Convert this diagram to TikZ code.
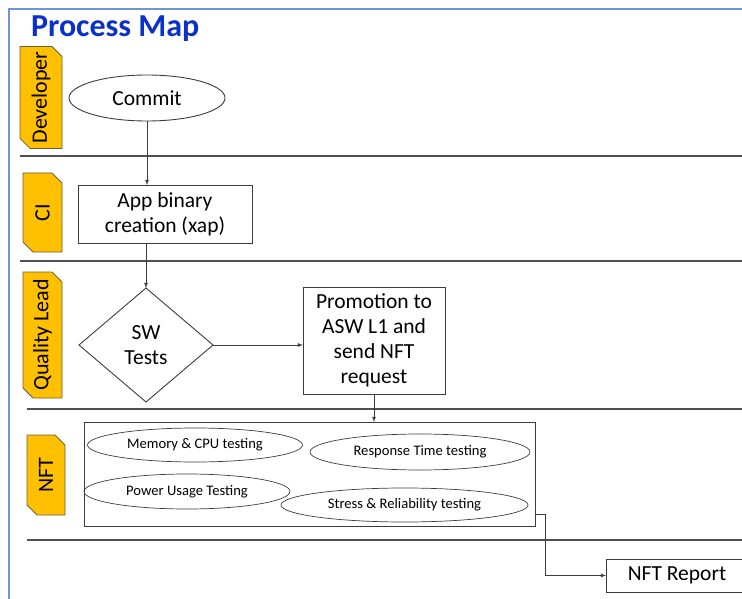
\documentclass[tikz,border=0pt]{standalone}
\usepackage{fontspec}
\setmainfont{Carlito}
\usepackage{graphicx}
\usetikzlibrary{shapes.geometric,shapes.misc}
\definecolor{laneorange}{RGB}{255,192,0}
\definecolor{laneedge}{RGB}{110,95,60}
\definecolor{framebl}{RGB}{110,150,215}
\definecolor{titlebl}{RGB}{10,50,200}
\definecolor{edgegray}{RGB}{60,60,60}

\begin{document}
\begin{tikzpicture}[x=1pt, y=-1pt, >=latex,
     every node/.style = {inner sep=0pt, outer sep=0pt, align=center},
     lanetab/.style = {chamfered rectangle,
        chamfered rectangle corners={north east, south west},
        chamfered rectangle sep=5pt, fill=laneorange, draw=laneedge,
        line width=0.8pt, font=\fontsize{22}{26}\selectfont},
     procbox/.style = {draw=edgegray, fill=white, line width=0.9pt,
        font=\fontsize{21.5}{25}\selectfont},
     testoval/.style = {ellipse, draw=edgegray, line width=0.7pt,
        font=\fontsize{14.6}{16}\selectfont},
     lane/.style = {draw=edgegray!90, line width=1.2pt},
     flow/.style = {->, draw=edgegray, line width=0.8pt}]
    \useasboundingbox (0,0) rectangle (742,599);
    \draw [framebl, line width=1.6pt] (9,605) -- (9,9) -- (750,9);
    \node [anchor=base west, text=titlebl,
            font=\fontsize{32}{36}\bfseries] 
        at (31,37)    (title) {Process Map};
    \node [lanetab, minimum width=42, minimum height=100] 
        at (41,97.5)  (dev) {\rotatebox{90}{Developer}};
    \node [lanetab, minimum width=39, minimum height=79] 
        at (42.5,212.5) (ci) {\rotatebox{90}{CI}};
    \node [lanetab, minimum width=39, minimum height=126] 
        at (42.5,335) (ql) {\rotatebox{90}{Quality Lead}};
    \node [lanetab, minimum width=38, minimum height=80] 
        at (46,475)   (nft) {\rotatebox{90}{NFT}};
    \draw [lane] (20,156) -- (750,156);
    \draw [lane] (20,261) -- (750,261);
    \draw [lane] (27,409) -- (750,409);
    \draw [lane] (27,540) -- (750,540);
    \node [procbox, ellipse, minimum width=156, minimum height=46] 
        at (147,98)   (commit) {Commit};
    \node [procbox, minimum width=174, minimum height=58] 
        at (165,214)  (app) {App binary\\creation (xap)};
    \node [procbox, diamond, minimum width=134, minimum height=114] 
        at (146,345)  (sw) {SW\\Tests};
    \node [procbox, minimum width=142, minimum height=107] 
        at (374,340.5) (promo) {Promotion to\\ASW L1 and\\send NFT\\request};
    \node [draw=edgegray, line width=0.9pt, minimum width=451, 
            minimum height=104] 
        at (309.5,474) (nftbox) {};
    \node [testoval, minimum width=215, minimum height=34] 
        at (195,445)  (mem) {Memory \& CPU testing};
    \node [testoval, minimum width=220, minimum height=36] 
        at (420,452)  (resp) {Response Time testing};
    \node [testoval, minimum width=206, minimum height=35] 
        at (187,491.5) (power) {Power Usage Testing};
    \node [testoval, fill=white, minimum width=247, minimum height=34] 
        at (404.5,505) (stress) {Stress \& Reliability testing};
    \node [procbox, minimum width=142, minimum height=33] 
        at (677,575.5) (report) {NFT Report};
    \coordinate (nftout) at (nftbox.east |- 0,514);
    \draw [flow] (commit.south) -- (commit.south |- app.north);
    \draw [flow] (app.south -| sw.north) -- (sw.north);
    \draw [flow] (sw.east) -- (sw.east -| promo.west);
    \draw [flow] (promo.south) -- (promo.south |- nftbox.north);
    \draw [flow] (nftout) -- ++(10,0) |- (report.west);
\end{tikzpicture}
\end{document}
